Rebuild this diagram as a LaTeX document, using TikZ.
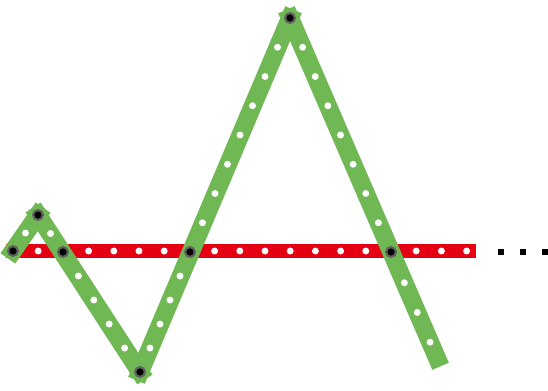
\documentclass[tikz,border=0pt]{standalone}
\usepackage{tikz}
\usetikzlibrary{calc}
\definecolor{myred}{RGB}{228,0,18}
\definecolor{mygreen}{RGB}{112,184,84}
\tikzset{
  redbar/.style={line width=11pt, color=myred},
  greenbar/.style={line width=13.5pt, color=mygreen, line cap=rect},
  hole/.style={circle, fill=white, inner sep=0pt, minimum size=5.2pt},
  joint/.style={circle, fill=black, draw=black!62, line width=1.6pt,
    inner sep=0pt, minimum size=7.4pt},
  dotsq/.style={rectangle, fill=black, inner sep=0pt, minimum size=4pt}
}

\begin{document}
\begin{tikzpicture}[x=0.75pt, y=-0.75pt]
  \useasboundingbox (0,0) rectangle (548,390);
  % points of the zigzag
  \coordinate (p0) at (13,251);
  \coordinate (p1) at (38,215);
  \coordinate (p2) at (63,252);
  \coordinate (p3) at (140,372);
  \coordinate (x1) at (190,252);
  \coordinate (p4) at (290,18);
  \coordinate (x2) at (391,252);
  \coordinate (e) at (437,358);
  \coordinate (rl) at (6,251);
  \coordinate (rr) at (476,251);

  % red bar
  \draw[redbar] (rl) -- (rr);
  \foreach \i in {0,...,18}
    \node[hole] (r\i) at ({13+25.2*\i},251) {};

  % green bar
  \draw[greenbar] (p0) -- (p1);
  \draw[greenbar] (p1) -- (p3);
  \draw[greenbar] (p3) -- (p4);
  \draw[greenbar] (p4) -- (e);

  % holes on the green bar
  \node[hole] (ga) at ($(p0)!0.5!(p1)$) {};
  \node[hole] (gb) at ($(p1)!0.5!(p2)$) {};
  \foreach \t in {0.2,0.4,0.6,0.8} {
    \node[hole] at ($(p2)!\t!(p3)$) {};
    \node[hole] at ($(p3)!\t!(x1)$) {};
  }
  \foreach \t in {1,...,7} {
    \node[hole] at ($(x1)!\t/8!(p4)$) {};
    \node[hole] at ($(p4)!\t/8!(x2)$) {};
  }
  \foreach \t in {0.29,0.57,0.85}
    \node[hole] at ($(x2)!\t!(e)$) {};

  % joints
  \foreach \p in {p0,p1,p2,p3,x1,p4,x2}
    \node[joint] (j\p) at (\p) {};

  % dots
  \node[dotsq] (d1) at (501,252) {};
  \node[dotsq] (d2) at (523,252) {};
  \node[dotsq] (d3) at (545,252) {};
\end{tikzpicture}
\end{document}
